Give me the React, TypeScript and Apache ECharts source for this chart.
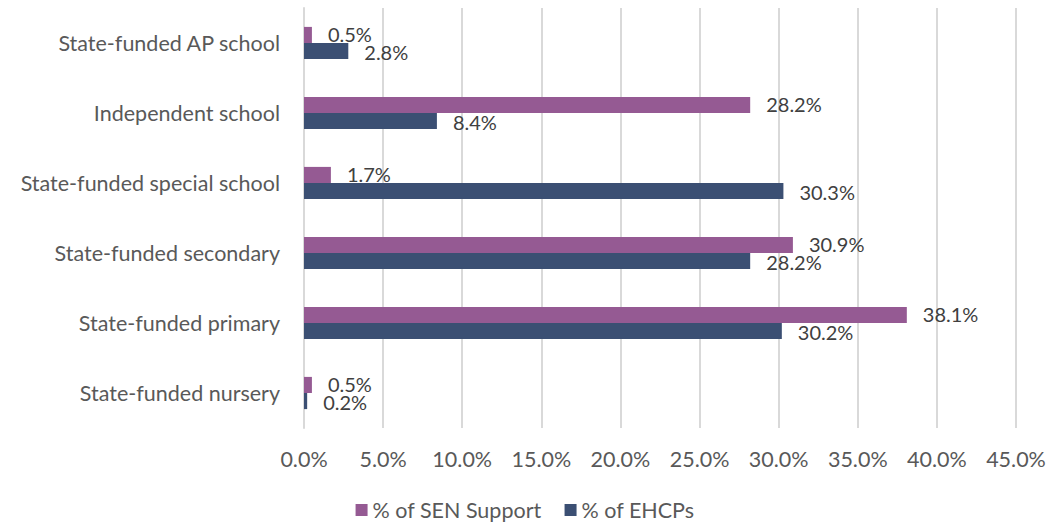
import React, { useEffect, useRef } from "react";
import * as echarts from "echarts";

const categories = [
  "State-funded AP school",
  "Independent school",
  "State-funded special school",
  "State-funded secondary",
  "State-funded primary",
  "State-funded nursery",
];
const senSupport = [0.5, 28.2, 1.7, 30.9, 38.1, 0.5];
const ehcps = [2.8, 8.4, 30.3, 28.2, 30.2, 0.2];
const seriesNames = ["% of SEN Support", "% of EHCPs"];
const colors = ["#955A93", "#3B4F73"];

const FONT = "Lato, 'Open Sans', sans-serif";
const FS = 21.5;
const TXT = "#595959";

export default function App() {
  const ref = useRef<HTMLDivElement>(null);
  useEffect(() => {
    if (!ref.current) return;
    const chart = echarts.init(ref.current, null, { renderer: "svg" });
    const labelCfg = (dy: number) => ({
      show: true,
      position: "right",
      distance: 16,
      offset: [0, dy],
      color: "#404040",
      fontSize: 20,
      lineHeight: 18,
      fontFamily: FONT,
      formatter: (p: any) => Number(p.value).toFixed(1) + "%",
    });
    chart.setOption({
      animation: false,
      textStyle: { fontFamily: FONT },
      grid: { left: 304, right: 34, top: 8, bottom: 96, containLabel: false },
      legend: {
        top: 499,
        left: "center",
        padding: 0,
        itemWidth: 12,
        itemHeight: 12,
        itemGap: 23,
        icon: "rect",
        textStyle: { fontSize: FS, color: TXT, fontFamily: FONT },
        data: seriesNames,
      },
      xAxis: {
        type: "value",
        min: 0,
        max: 45,
        interval: 5,
        axisLabel: {
          formatter: (v: number) => v.toFixed(1) + "%",
          fontSize: FS,
          color: TXT,
          margin: 20,
          fontFamily: FONT,
        },
        axisLine: { show: false },
        axisTick: { show: false },
        splitLine: { show: true, lineStyle: { color: "#d9d9d9", width: 2 } },
      },
      yAxis: {
        type: "category",
        data: categories,
        inverse: true,
        axisLabel: { fontSize: FS, color: TXT, margin: 24, fontFamily: FONT },
        axisLine: { show: true, lineStyle: { color: "#d9d9d9", width: 2 } },
        axisTick: { show: false },
      },
      series: [
        {
          name: seriesNames[0],
          type: "bar",
          data: senSupport,
          barGap: "0%",
          barCategoryGap: "54%",
          itemStyle: { color: colors[0] },
          label: labelCfg(-1),
        },
        {
          name: seriesNames[1],
          type: "bar",
          data: ehcps,
          barGap: "0%",
          barCategoryGap: "54%",
          itemStyle: { color: colors[1] },
          label: labelCfg(1),
        },
      ],
    });
    return () => chart.dispose();
  }, []);
  return (
    <div
      ref={ref}
      style={{ position: "absolute", left: 0, top: 0, width: 1050, height: 524 }}
    />
  );
}
